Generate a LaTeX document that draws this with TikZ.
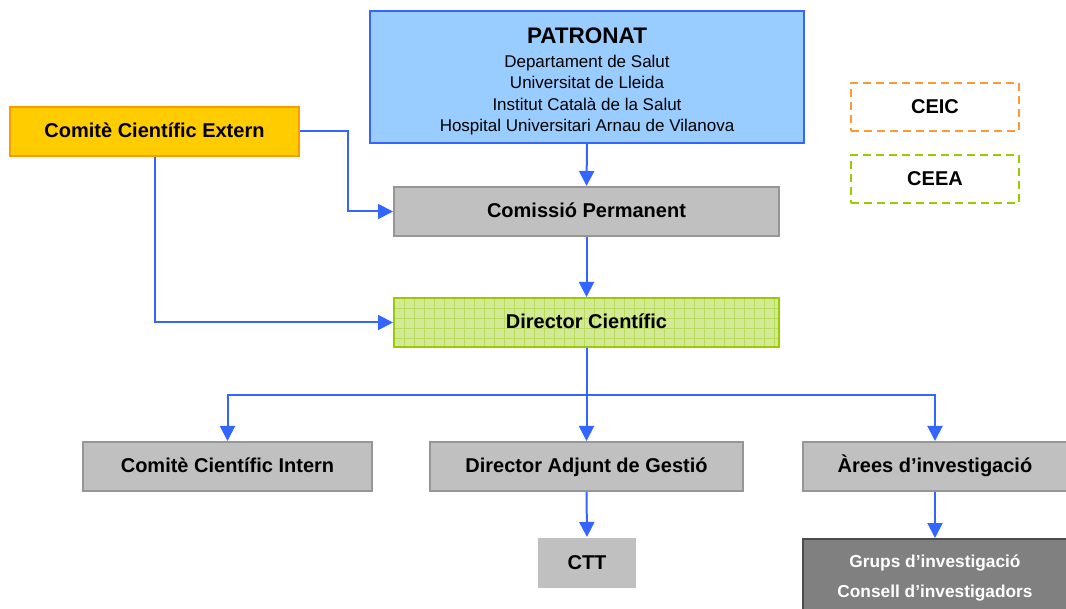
\documentclass[tikz,border=0pt]{standalone}
\usepackage{fontspec}
\setmainfont{Liberation Sans}
\usetikzlibrary{arrows.meta}

\definecolor{patblue}{RGB}{153,204,255}
\definecolor{lineblue}{RGB}{51,102,255}
\definecolor{extfill}{RGB}{255,204,0}
\definecolor{extline}{RGB}{255,153,0}
\definecolor{boxgrey}{RGB}{192,192,192}
\definecolor{boxline}{RGB}{150,150,150}
\definecolor{dirfill}{RGB}{210,234,150}
\definecolor{dirgrid}{RGB}{185,220,95}
\definecolor{dirline}{RGB}{153,204,0}
\definecolor{darkbox}{RGB}{128,128,128}
\definecolor{ceicline}{RGB}{255,153,51}

\begin{document}
\begin{tikzpicture}[x=1pt, y=-1pt,
		box/.style={draw, line width=2pt, inner sep=0pt, minimum height=49pt,
			font=\fontsize{20}{24}\selectfont\bfseries},
		onerow/.style={text height=15pt, text depth=2pt},
		greybox/.style={box, onerow, fill=boxgrey, draw=boxline},
		dashbox/.style={box, onerow, dash pattern=on 8pt off 5pt, minimum width=168pt, minimum height=48pt},
		link/.style={draw=lineblue, line width=2pt, -{Triangle[length=15pt,width=15pt]}},
		wire/.style={draw=lineblue, line width=2pt}]
		\useasboundingbox (0,0) rectangle (1066,609);
		\clip (0,0) rectangle (1066,609);

		% top of the chart
		\node[box, fill=patblue, draw=lineblue, minimum width=434pt, minimum height=132pt,
			align=center, font=\fontsize{17}{21.5}\selectfont] (patronat) at (587,77)
			{{\rule{0pt}{25pt}\fontsize{22.5}{26}\selectfont\bfseries PATRONAT}\\[2pt]Departament de Salut\\Universitat de Lleida\\Institut Català de la Salut\\Hospital Universitari Arnau de Vilanova};
		\node[box, onerow, fill=extfill, draw=extline, minimum width=289pt] (extern) at (154.5,131.5) {Comitè Científic Extern};
		\node[dashbox, draw=ceicline] (ceic) at (935,107) {CEIC};
		\node[dashbox, draw=dirline] (ceea) at (935,179) {CEEA};

		\node[greybox, minimum width=385pt] (permanent) at (586.5,211.5) {Comissió Permanent};
		\node[box, onerow, fill=dirfill, draw=dirline, minimum width=385pt,
			path picture={
				\foreach \gx in {0,10,...,390}
					\draw[dirgrid, line width=0.8pt] ([xshift=\gx pt]path picture bounding box.north west) -- ([xshift=\gx pt]path picture bounding box.south west);
				\foreach \gy in {0,10,...,50}
					\draw[dirgrid, line width=0.8pt] ([yshift=-\gy pt]path picture bounding box.north west) -- ([yshift=-\gy pt]path picture bounding box.north east);
			}] (director) at (586.5,322.5) {Director Científic};

		% lower row
		\node[greybox, minimum width=289pt] (intern) at (227.5,466.5) {Comitè Científic Intern};
		\node[greybox, minimum width=313pt] (adjunt) at (586.5,466.5) {Director Adjunt de Gestió};
		\node[greybox, minimum width=264pt] (arees) at (935,466.5) {Àrees d’investigació};
		\node[box, onerow, fill=boxgrey, draw=none, minimum width=98pt, minimum height=50pt] (ctt) at (587,563) {CTT};
		\node[box, fill=darkbox, draw=black!70, minimum width=264pt, minimum height=78pt, align=center,
			text=white, font=\fontsize{17.3}{30}\selectfont\bfseries] (grups) at (935,578)
			{Grups d’investigació\\Consell d’investigadors};

		% connectors
		\draw[link] (patronat.south) -- (permanent.north);
		\draw[link] (extern.east) -- ++(48,0) |- (permanent.west);
		\draw[link] (extern.south) |- (director.west);
		\draw[link] (permanent.south) -- (director.north);
		\coordinate (split) at (586.5,395);
		\draw[wire] (director.south) -- (split);
		\draw[link] (split) -| (intern.north);
		\draw[link] (split) -- (adjunt.north);
		\draw[link] (split) -| (arees.north);
		\draw[link] (adjunt.south) -- (ctt.north);
		\draw[link] (arees.south) -- (grups.north);
\end{tikzpicture}
\end{document}
